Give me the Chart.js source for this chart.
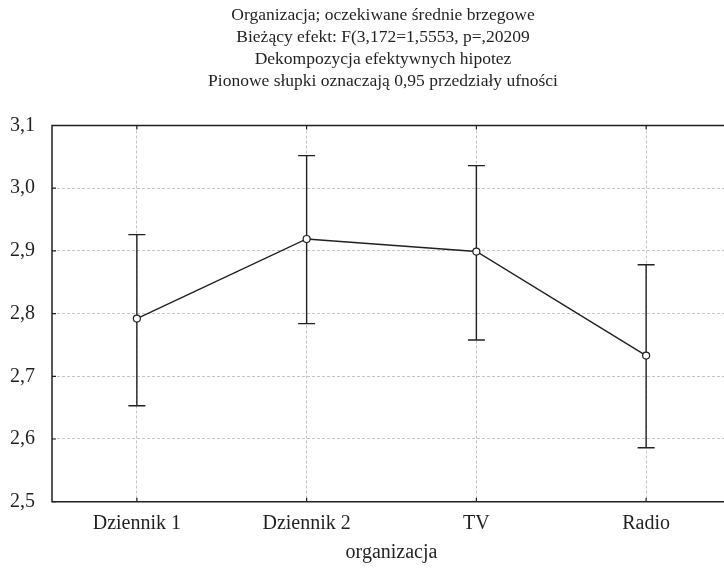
<!DOCTYPE html>
<html>
<head>
<meta charset="utf-8">
<script src="https://cdn.jsdelivr.net/npm/chart.js@4.4.1/dist/chart.umd.min.js"></script>
<style>
  html, body { margin: 0; padding: 0; background: #fff; overflow: hidden; }
</style>
</head>
<body>
<canvas id="myChart" width="740" height="571"></canvas>
<script>
// dane
var kategorie = ['Dziennik 1', 'Dziennik 2', 'TV', 'Radio'];
var srednie = [2.792, 2.919, 2.899, 2.733];
var dolne = [2.653, 2.784, 2.758, 2.586];
var gorne = [2.926, 3.052, 3.036, 2.878];
var tytul = [
    'Organizacja; oczekiwane średnie brzegowe',
    'Bieżący efekt: F(3,172=1,5553, p=,20209',
    'Dekompozycja efektywnych hipotez',
    'Pionowe słupki oznaczają 0,95 przedziały ufności'
];
var osX = 'organizacja';

var czcionka = "'Liberation Serif', 'DejaVu Serif', serif";
var ciemny = '#231f20';

// tytul (4 linie), wysrodkowany jak w oryginale
var tytulWykresu = {
    id: 'tytulWykresu',
    afterDraw: function (chart) {
        var ctx = chart.ctx;
        ctx.save();
        ctx.fillStyle = ciemny;
        ctx.font = '17.5px ' + czcionka;
        ctx.textAlign = 'center';
        ctx.textBaseline = 'middle';
        tytul.forEach(function (linia, i) {
            ctx.fillText(linia, 383, 15 + i * 22);
        });
        ctx.restore();
    }
};

// slupki bledu (przedzialy ufnosci)
var slupkiBledu = {
    id: 'slupkiBledu',
    beforeDatasetsDraw: function (chart) {
        var ctx = chart.ctx;
        var x = chart.scales.x, y = chart.scales.y;
        ctx.save();
        ctx.strokeStyle = ciemny;
        ctx.lineWidth = 1.4;
        for (var i = 0; i < kategorie.length; i++) {
            var px = x.getPixelForValue(i);
            var y1 = y.getPixelForValue(gorne[i]);
            var y2 = y.getPixelForValue(dolne[i]);
            ctx.beginPath();
            ctx.moveTo(px, y1); ctx.lineTo(px, y2);
            ctx.moveTo(px - 8.5, y1); ctx.lineTo(px + 8.5, y1);
            ctx.moveTo(px - 8.5, y2); ctx.lineTo(px + 8.5, y2);
            ctx.stroke();
        }
        ctx.restore();
    }
};

// ramka (lewa, gorna, dolna) i znaczniki do srodka
var ramka = {
    id: 'ramka',
    afterDraw: function (chart) {
        var ctx = chart.ctx;
        var a = chart.chartArea;
        var x = chart.scales.x, y = chart.scales.y;
        ctx.save();
        ctx.setLineDash([]);
        ctx.strokeStyle = ciemny;
        ctx.lineWidth = 1.5;
        ctx.beginPath();
        ctx.moveTo(a.right, a.top); ctx.lineTo(a.left, a.top);
        ctx.lineTo(a.left, a.bottom); ctx.lineTo(a.right, a.bottom);
        ctx.stroke();
        ctx.lineWidth = 1.2;
        ctx.beginPath();
        y.ticks.forEach(function (t, i) {
            var py = y.getPixelForTick(i);
            ctx.moveTo(a.left, py); ctx.lineTo(a.left + 4, py);
        });
        x.ticks.forEach(function (t, i) {
            var px = x.getPixelForTick(i);
            ctx.moveTo(px, a.bottom); ctx.lineTo(px, a.bottom - 4);
            ctx.moveTo(px, a.top); ctx.lineTo(px, a.top + 4);
        });
        ctx.stroke();
        ctx.restore();
    }
};

function RysujWykres() {
    new Chart('myChart', {
        type: 'line',
        data: {
            labels: kategorie,
            datasets: [{
                data: srednie,
                borderColor: ciemny,
                borderWidth: 1.4,
                pointRadius: 3.5,
                pointBorderWidth: 1.2,
                pointBackgroundColor: '#fff',
                pointBorderColor: ciemny,
                tension: 0
            }]
        },
        options: {
            responsive: false,
            animation: false,
            layout: { padding: { left: 0, right: 9, top: 125.5, bottom: 0 } },
            plugins: {
                legend: { display: false },
                tooltip: { enabled: false },
                title: { display: false }
            },
            scales: {
                x: {
                    offset: true,
                    grid: { color: '#c4c4c4', lineWidth: 1, drawTicks: false, offset: false },
                    border: { display: false, dash: [3, 2] },
                    ticks: { color: ciemny, padding: 10, font: { family: czcionka, size: 20 } },
                    title: {
                        display: true, text: osX, color: ciemny,
                        font: { family: czcionka, size: 20 },
                        padding: { top: 0, bottom: 6 }
                    },
                    afterFit: function (s) { s.height = 69.3; }
                },
                y: {
                    min: 2.5,
                    max: 3.1,
                    grid: { color: '#c4c4c4', lineWidth: 1, drawTicks: false },
                    border: { display: false, dash: [3, 2] },
                    ticks: {
                        stepSize: 0.1,
                        padding: 17,
                        color: ciemny,
                        font: { family: czcionka, size: 20 },
                        callback: function (v) { return v.toFixed(1).replace('.', ','); }
                    },
                    afterFit: function (s) { s.width = 52; }
                }
            }
        },
        plugins: [slupkiBledu, ramka, tytulWykresu]
    });
}

RysujWykres();
</script>
</body>
</html>
